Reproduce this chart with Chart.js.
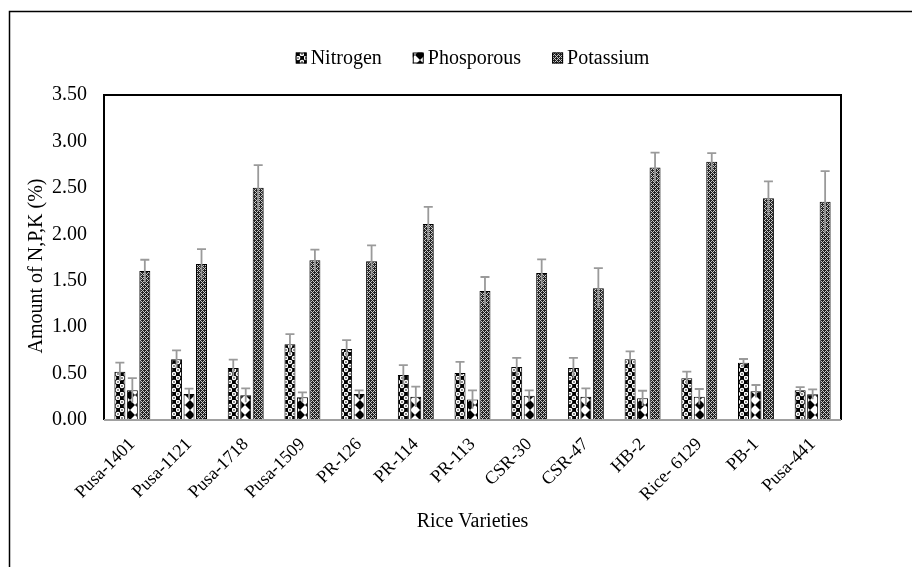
<!DOCTYPE html>
<html><head><meta charset="utf-8">
<script src="https://cdn.jsdelivr.net/npm/chart.js@4.4.0/dist/chart.umd.min.js"></script>
<style>html,body{margin:0;padding:0;background:#fff;}#wrap{width:912px;height:567px;position:relative;}</style>
</head><body><div id="wrap"><canvas id="c" width="912" height="567"></canvas></div>
<script>
const categories = ["Pusa-1401","Pusa-1121","Pusa-1718","Pusa-1509","PR-126","PR-114","PR-113","CSR-30","CSR-47","HB-2","Rice- 6129","PB-1","Pusa-441"];
const seriesNames = ["Nitrogen","Phosporous","Potassium"];
const nitrogen    = [0.52,0.655,0.56,0.815,0.765,0.485,0.505,0.57,0.56,0.655,0.45,0.617,0.32];
const nitrogenErr = [0.097,0.095,0.09,0.11,0.095,0.105,0.12,0.10,0.11,0.085,0.07,0.04,0.035];
const phosphorus    = [0.32,0.28,0.266,0.244,0.28,0.25,0.22,0.26,0.25,0.233,0.25,0.309,0.277];
const phosphorusErr = [0.132,0.057,0.074,0.054,0.04,0.11,0.10,0.06,0.09,0.082,0.084,0.068,0.053];
const potassium    = [1.605,1.68,2.50,1.72,1.71,2.11,1.39,1.583,1.42,2.72,2.78,2.387,2.35];
const potassiumErr = [0.121,0.16,0.245,0.115,0.17,0.185,0.15,0.147,0.215,0.16,0.095,0.183,0.33];
const yTicks = [0,0.5,1,1.5,2,2.5,3,3.5];
const yTitle = 'Amount of N,P,K (%)';
const xTitle = 'Rice Varieties';

const FONT = '"Liberation Serif","Times New Roman",serif';

function makePattern(w,h,draw){
  const c=document.createElement('canvas'); c.width=w; c.height=h;
  const g=c.getContext('2d'); draw(g,w,h);
  return document.getElementById('c').getContext('2d').createPattern(c,'repeat');
}
const patN = makePattern(8,8,(g)=>{
  g.fillStyle='#000'; g.fillRect(0,0,8,8);
  g.fillStyle='#fff';
  g.beginPath(); g.arc(2,2,2.3,0,Math.PI*2); g.fill();
  g.beginPath(); g.arc(6,6,2.3,0,Math.PI*2); g.fill();
  g.fillStyle='#000';
  g.beginPath(); g.arc(2,2,0.8,0,Math.PI*2); g.fill();
  g.beginPath(); g.arc(6,6,0.8,0,Math.PI*2); g.fill();
});
const patP = makePattern(10,10,(g)=>{
  g.fillStyle='#fff'; g.fillRect(0,0,10,10);
  g.fillStyle='#000';
  g.beginPath(); g.moveTo(0,0); g.lineTo(5,5); g.lineTo(0,10); g.closePath(); g.fill();
  g.beginPath(); g.moveTo(10,0); g.lineTo(5,5); g.lineTo(10,10); g.closePath(); g.fill();
});
const patK = makePattern(4,4,(g)=>{
  g.fillStyle='#222'; g.fillRect(0,0,4,4);
  g.fillStyle='#c8c8c8';
  for(let x=0;x<4;x++)for(let y=0;y<4;y++){ if((x+y)%4===0||((x-y)+8)%4===0) g.fillRect(x,y,1,1); }
});
const patterns=[patN,patP,patK];

const frame = {
  id:'frame',
  afterDraw(chart){
    const ctx=chart.ctx, a=chart.chartArea;
    ctx.save();
    ctx.strokeStyle='#000'; ctx.lineWidth=1.5;
    ctx.beginPath(); ctx.moveTo(9.5,567); ctx.lineTo(9.5,11.5); ctx.lineTo(912,11.5); ctx.stroke();
    ctx.lineWidth=2; ctx.strokeStyle='#000';
    ctx.beginPath(); ctx.moveTo(a.left,a.bottom); ctx.lineTo(a.left,a.top); ctx.lineTo(a.right,a.top); ctx.lineTo(a.right,a.bottom); ctx.stroke();
    ctx.strokeStyle='#a0a0a0';
    ctx.beginPath(); ctx.moveTo(a.left,a.bottom); ctx.lineTo(a.right,a.bottom); ctx.stroke();
    // y title
    ctx.font='20px '+FONT; ctx.fillStyle='#000'; ctx.textBaseline='middle'; ctx.textAlign='center';
    ctx.save(); ctx.translate(37,266); ctx.rotate(-Math.PI/2); ctx.fillText(yTitle,0,0); ctx.restore();
    // legend
    ctx.textAlign='left';
    const box=11, gapT=4, gapI=31;
    const widths=seriesNames.map(s=>ctx.measureText(s).width);
    let total=0; widths.forEach((w,i)=>{ total+=box+gapT+w+(i<widths.length-1?gapI:0); });
    let x=(a.left+a.right)/2-total/2; const cy=58;
    seriesNames.forEach((s,i)=>{
      ctx.fillStyle=patterns[i]; ctx.fillRect(x,cy-box/2,box,box);
      ctx.strokeStyle='#000'; ctx.lineWidth=1; ctx.strokeRect(x+0.5,cy-box/2+0.5,box-1,box-1);
      ctx.fillStyle='#000'; ctx.fillText(s,x+box+gapT,cy+1);
      x+=box+gapT+widths[i]+gapI;
    });
    ctx.restore();
  }
};
const errorBars = {
  id:'errorBars',
  afterDatasetsDraw(chart){
    const ctx=chart.ctx, ys=chart.scales.y;
    ctx.save(); ctx.strokeStyle='#9a9a9a'; ctx.lineWidth=1.8;
    chart.data.datasets.forEach((ds,i)=>{
      const meta=chart.getDatasetMeta(i);
      meta.data.forEach((bar,j)=>{
        const v=ds.data[j], e=ds.err[j];
        const x=bar.x, yt=ys.getPixelForValue(v+e), yb=ys.getPixelForValue(Math.max(0,v-e));
        ctx.beginPath(); ctx.moveTo(x,yt); ctx.lineTo(x,yb);
        ctx.moveTo(x-4.5,yt); ctx.lineTo(x+4.5,yt); ctx.stroke();
      });
    });
    ctx.restore();
  }
};

const values=[nitrogen,phosphorus,potassium], errs=[nitrogenErr,phosphorusErr,potassiumErr];
new Chart(document.getElementById('c'),{
  type:'bar',
  data:{labels:categories,datasets:seriesNames.map((n,i)=>({
    label:n,data:values[i],err:errs[i],backgroundColor:patterns[i],borderColor:'#000',borderWidth:1,
    categoryPercentage:0.66,barPercentage:0.88
  }))},
  options:{
    responsive:false,animation:false,
    layout:{padding:{top:95,right:71,left:0,bottom:0}},
    plugins:{legend:{display:false},tooltip:{enabled:false}},
    scales:{
      x:{grid:{display:false,drawTicks:false},border:{display:false},
        ticks:{autoSkip:false,maxRotation:45,minRotation:45,padding:14,color:'#000',font:{family:FONT,size:18}},
        title:{display:true,text:xTitle,color:'#000',font:{family:FONT,size:20},padding:{top:0,bottom:33}},
        afterFit(s){s.height=147;}
      },
      y:{min:0,max:3.5,grid:{display:false,drawTicks:false},border:{display:false},
        afterBuildTicks(s){s.ticks=yTicks.map(v=>({value:v}));},
        ticks:{padding:17,color:'#000',font:{family:FONT,size:20},callback:v=>Number(v).toFixed(2)},
        title:{display:false},
        afterFit(s){s.width=104;}
      }
    }
  },
  plugins:[errorBars,frame]
});
</script></body></html>
